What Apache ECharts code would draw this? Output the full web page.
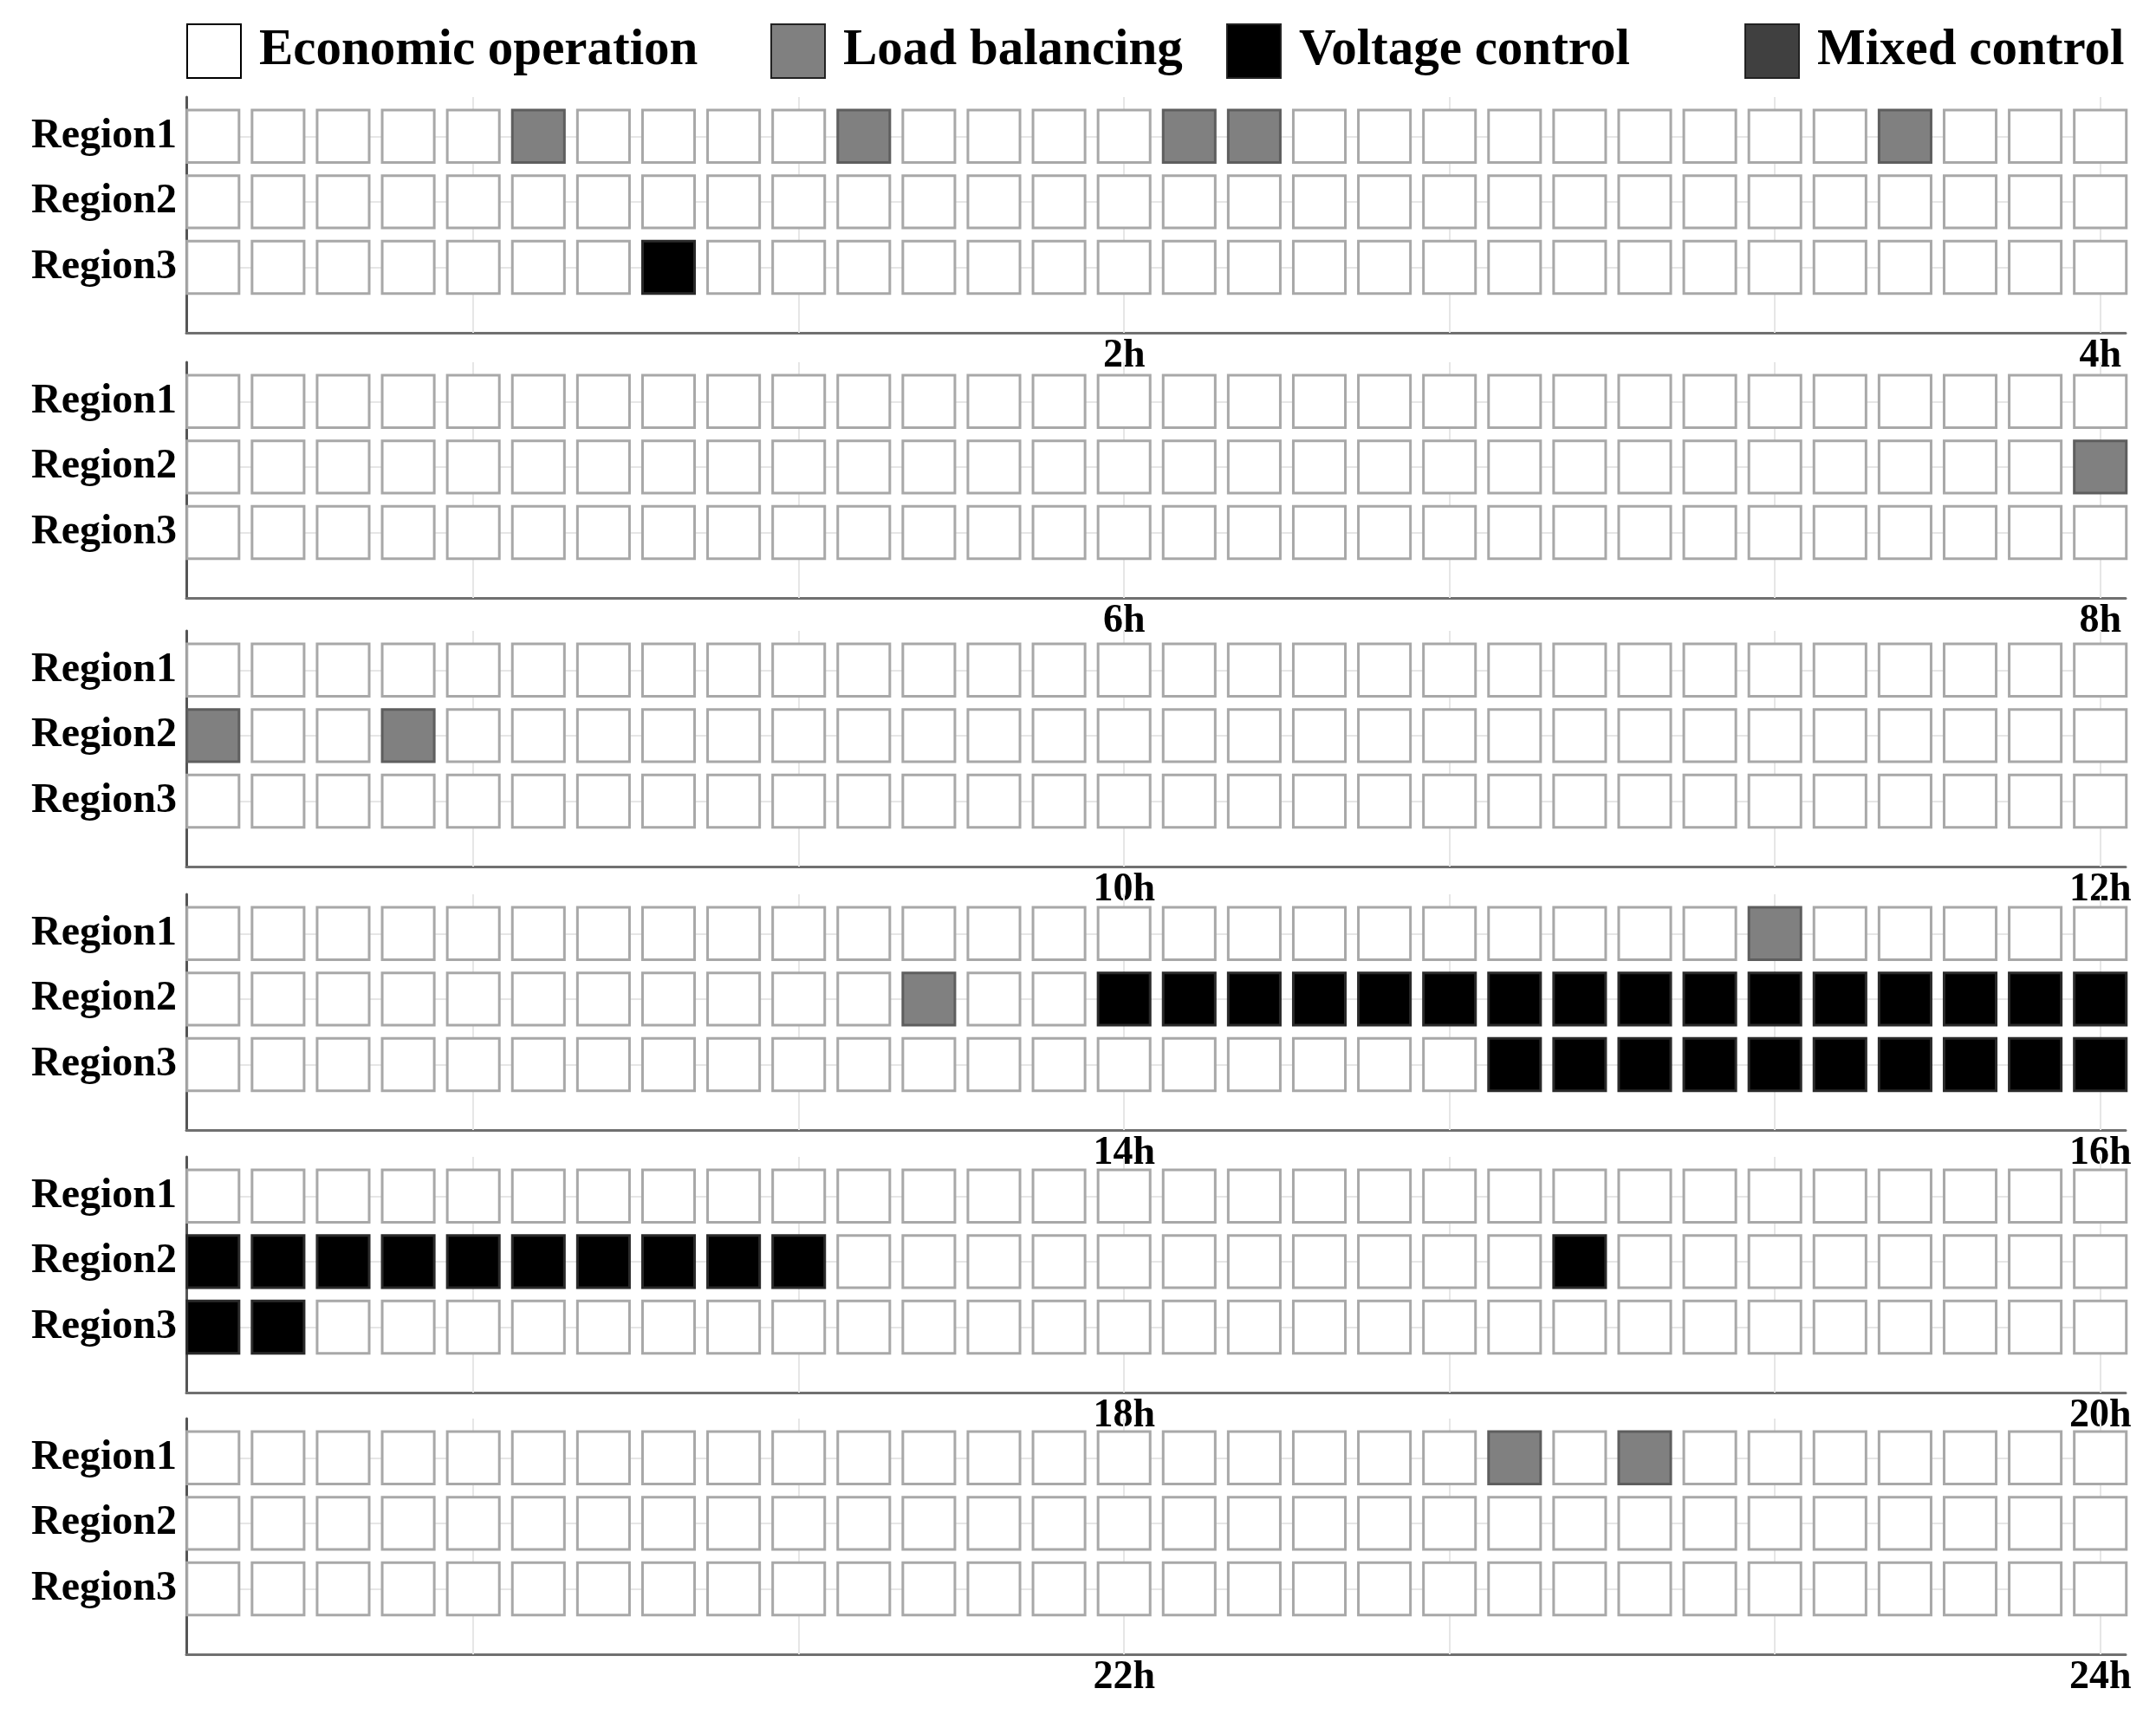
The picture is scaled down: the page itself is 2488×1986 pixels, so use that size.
<!DOCTYPE html>
<html>
<head>
<meta charset="utf-8">
<title>Control mode per region</title>
<script src="https://cdn.jsdelivr.net/npm/echarts@6/dist/echarts.min.js"></script>
<style>
    html, body { margin: 0; padding: 0; background: #fff; }
    #chart { width: 2488px; height: 1986px; }
</style>
</head>
<body>
<div id="chart"></div>
<script>
// ---- data ----
var regions = ['Region1', 'Region2', 'Region3'];
var modes = ['Economic operation', 'Load balancing', 'Voltage control', 'Mixed control'];
var tickLabels = [['2h', '4h'], ['6h', '8h'], ['10h', '12h'], ['14h', '16h'], ['18h', '20h'], ['22h', '24h']];
// one string per region, 30 slots of 8 min, digit = index in modes
var states0to4 = [
    '000001000010000110000000001000',
    '000000000000000000000000000000',
    '000000020000000000000000000000'
];
var states4to8 = [
    '000000000000000000000000000000',
    '000000000000000000000000000001',
    '000000000000000000000000000000'
];
var states8to12 = [
    '000000000000000000000000000000',
    '100100000000000000000000000000',
    '000000000000000000000000000000'
];
var states12to16 = [
    '000000000000000000000000100000',
    '000000000001002222222222222222',
    '000000000000000000002222222222'
];
var states16to20 = [
    '000000000000000000000000000000',
    '222222222200000000000200000000',
    '220000000000000000000000000000'
];
var states20to24 = [
    '000000000000000000001010000000',
    '000000000000000000000000000000',
    '000000000000000000000000000000'
];
var panels = [states0to4, states4to8, states8to12, states12to16, states16to20, states20to24];

// ---- look ----
var FONT = '"Liberation Serif", "Times New Roman", serif';
var fills = ['#ffffff', '#808080', '#000000', '#404040'];
var strokes = ['#a8a8a8', '#5e5e5e', '#2a2a2a', '#2a2a2a'];
var panelTops = [112, 418, 728, 1032, 1335, 1637];
var PANEL_H = 272;
var CELL = 0.8;

var chart = echarts.init(document.getElementById('chart'));

function cellRenderer(mode) {
    return function (params, api) {
        var c = api.coord([api.value(0), api.value(1)]);
        var s = api.size([CELL, CELL]);
        return {
            type: 'rect',
            shape: { x: c[0] - s[0] / 2, y: c[1] - s[1] / 2, width: s[0], height: s[1] },
            style: { fill: fills[mode], stroke: strokes[mode], lineWidth: 3 }
        };
    };
}

var grids = [], xAxes = [], yAxes = [], series = [];

panels.forEach(function (rows, p) {
    grids.push({ left: 215, right: 35, top: panelTops[p], height: PANEL_H });
    xAxes.push({
        gridIndex: p,
        type: 'value',
        min: -0.41,
        max: 29.39,
        axisLine: { show: true, onZero: false, lineStyle: { color: '#707070', width: 3 } },
        axisTick: {
            show: true, inside: true, length: 20,
            customValues: [4, 9, 14, 19, 24, 29],
            lineStyle: { color: '#9a9a9a', width: 2 }
        },
        axisLabel: {
            customValues: [14, 29],
            formatter: function (v) { return v === 14 ? tickLabels[p][0] : tickLabels[p][1]; },
            margin: 4,
            color: '#000',
            fontFamily: FONT,
            fontWeight: 'bold',
            fontSize: 46
        },
        splitLine: { show: false }
    });
    yAxes.push({
        gridIndex: p,
        type: 'value',
        min: -1,
        max: 2.6,
        axisLine: { show: true, onZero: false, lineStyle: { color: '#555', width: 3 } },
        axisTick: { show: false },
        axisLabel: {
            customValues: [0, 1, 2],
            formatter: function (v) { return regions[2 - v]; },
            margin: 11,
            color: '#000',
            fontFamily: FONT,
            fontWeight: 'bold',
            fontSize: 48
        },
        splitLine: { show: false }
    });

    // split the cells by mode, one series per mode so the legend links up
    var byMode = [[], [], [], []];
    rows.forEach(function (row, r) {
        row.split('').forEach(function (ch, i) {
            byMode[Number(ch)].push([i, 2 - r]);
        });
    });

    byMode.forEach(function (cells, m) {
        var s = {
            name: modes[m],
            type: 'custom',
            xAxisIndex: p,
            yAxisIndex: p,
            renderItem: cellRenderer(m),
            itemStyle: { color: fills[m], borderColor: strokes[m] },
            encode: { x: 0, y: 1 },
            clip: false,
            silent: true,
            z: 3,
            data: cells
        };
        if (m === 0) {
            // faint guide lines behind the cells
            s.markLine = {
                z: 1,
                silent: true,
                symbol: 'none',
                label: { show: false },
                lineStyle: { color: '#e6e6e6', width: 2, type: 'solid' },
                data: [
                    { xAxis: 4 }, { xAxis: 9 }, { xAxis: 14 }, { xAxis: 19 }, { xAxis: 24 }, { xAxis: 29 },
                    { yAxis: 0 }, { yAxis: 1 }, { yAxis: 2 }
                ]
            };
        }
        series.push(s);
    });
});

var legendLeft = [215, 889, 1415, 2013];
var legends = modes.map(function (m, k) {
    return {
        left: legendLeft[k],
        top: 27,
        padding: 0,
        icon: 'rect',
        itemWidth: 62,
        itemHeight: 62,
        selectedMode: false,
        data: [{
            name: m,
            itemStyle: { color: fills[k], borderColor: k === 0 ? '#000' : '#222', borderWidth: 2 }
        }],
        textStyle: {
            color: '#000',
            fontFamily: FONT,
            fontWeight: 'bold',
            fontSize: 59,
            padding: [0, 0, 0, 16]
        }
    };
});

chart.setOption({
    animation: false,
    backgroundColor: '#fff',
    legend: legends,
    grid: grids,
    xAxis: xAxes,
    yAxis: yAxes,
    series: series
});
</script>
</body>
</html>
